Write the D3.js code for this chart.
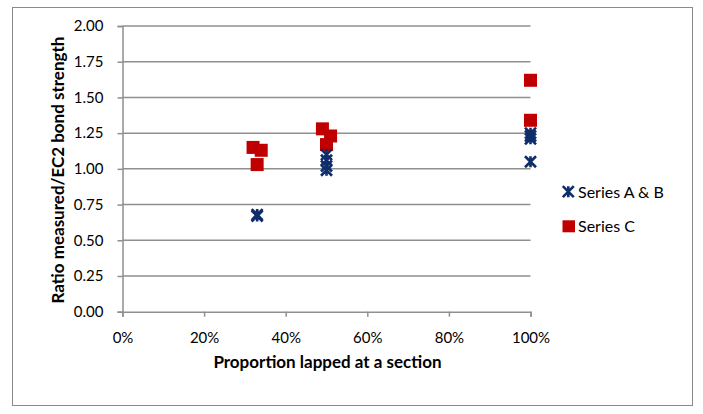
<!DOCTYPE html>
<html>
<head>
<meta charset="utf-8">
<script src="https://cdn.jsdelivr.net/npm/d3@7"></script>
<style>
  html, body { margin: 0; padding: 0; background: #fff; }
  svg { display: block; }
  text { font-family: Lato, "Open Sans", sans-serif; fill: #000; }
</style>
</head>
<body>
<script>
// Proportion lapped (fraction) and measured/EC2 ratio for each test
const seriesABx = [0.33, 0.33, 0.50, 0.50, 0.50, 0.50, 1.00, 1.00, 1.00, 1.00];
const seriesABy = [0.67, 0.68, 1.10, 1.06, 1.02, 0.99, 1.25, 1.23, 1.21, 1.05];
const seriesCx = [0.32, 0.34, 0.33, 0.49, 0.51, 0.50, 1.00, 1.00];
const seriesCy = [1.15, 1.13, 1.03, 1.28, 1.23, 1.17, 1.62, 1.34];
const yTicks = [0, 0.25, 0.5, 0.75, 1.0, 1.25, 1.5, 1.75, 2.0];
const xTicks = [0, 0.2, 0.4, 0.6, 0.8, 1.0];
const legendLabels = ["Series A & B", "Series C"];

const W = 703, H = 414;
const plot = { left: 122.5, right: 530.5, top: 26, bottom: 311.7 };
const navy = "#0f2d6b", red = "#c00000", grid = "#8f8f8f";

const svg = d3.select("body").append("svg").attr("width", W).attr("height", H);

// chart frame
svg.append("rect").attr("x", 12.5).attr("y", 7.5).attr("width", 680).attr("height", 398)
  .attr("fill", "#fff").attr("stroke", "#8a8a8a").attr("stroke-width", 1);

const x = d3.scaleLinear().domain([0, 1]).range([plot.left, plot.right]);
const y = d3.scaleLinear().domain([0, 2]).range([plot.bottom, plot.top]);

// horizontal gridlines
svg.append("g").selectAll("line").data(yTicks.slice(1)).join("line")
  .attr("x1", plot.left).attr("x2", plot.right)
  .attr("y1", d => y(d)).attr("y2", d => y(d))
  .attr("stroke", grid).attr("stroke-width", 1.5);

// y axis
const yAxis = svg.append("g").attr("transform", `translate(${plot.left},0)`)
  .call(d3.axisLeft(y).tickValues(yTicks).tickFormat(d3.format(".2f")).tickSize(5).tickPadding(14));
// x axis
const xAxis = svg.append("g").attr("transform", `translate(0,${plot.bottom})`)
  .call(d3.axisBottom(x).tickValues(xTicks).tickFormat(d3.format(".0%")).tickSize(5).tickPadding(15.5));

[yAxis, xAxis].forEach(g => {
  g.select(".domain").attr("stroke", grid).attr("stroke-width", 1.5);
  g.selectAll(".tick line").attr("stroke", grid).attr("stroke-width", 1.5);
  g.selectAll(".tick text").style("font-size", "15px").attr("fill", "#000")
    .style("font-family", "Lato, 'Open Sans', sans-serif");
});

// axis titles
svg.append("text")
  .attr("x", 327.5).attr("y", 368).attr("text-anchor", "middle")
  .style("font-size", "17px").style("font-weight", "bold")
  .text("Proportion lapped at a section");
svg.append("text")
  .attr("transform", "translate(64,170) rotate(-90)").attr("text-anchor", "middle")
  .style("font-size", "17px").style("font-weight", "bold")
  .text("Ratio measured/EC2 bond strength");

// asterisk marker: vertical bar plus two diagonals
function star(g, cx, cy, s) {
  const h = s / 2;
  g.append("path")
    .attr("d", `M${cx},${cy - h}V${cy + h}M${cx - h},${cy - h}L${cx + h},${cy + h}M${cx - h},${cy + h}L${cx + h},${cy - h}`)
    .attr("stroke", navy).attr("stroke-width", 2.6).attr("fill", "none");
}

const marks = svg.append("g");
// Series C squares
marks.selectAll("rect").data(d3.range(seriesCx.length)).join("rect")
  .attr("x", i => x(seriesCx[i]) - 6.5).attr("y", i => y(seriesCy[i]) - 6.5)
  .attr("width", 13).attr("height", 13).attr("fill", red);
// Series A & B asterisks
const stars = svg.append("g");
seriesABx.forEach((v, i) => star(stars, x(v), y(seriesABy[i]), 11));

// legend
const leg = svg.append("g");
star(leg, 568.3, 191.7, 11);
leg.append("rect").attr("x", 562.5).attr("y", 220.3).attr("width", 12.5).attr("height", 12).attr("fill", red);
leg.selectAll("text").data(legendLabels).join("text")
  .attr("x", 578).attr("y", (d, i) => 198 + i * 34)
  .style("font-size", "16px").text(d => d);
</script>
</body>
</html>
